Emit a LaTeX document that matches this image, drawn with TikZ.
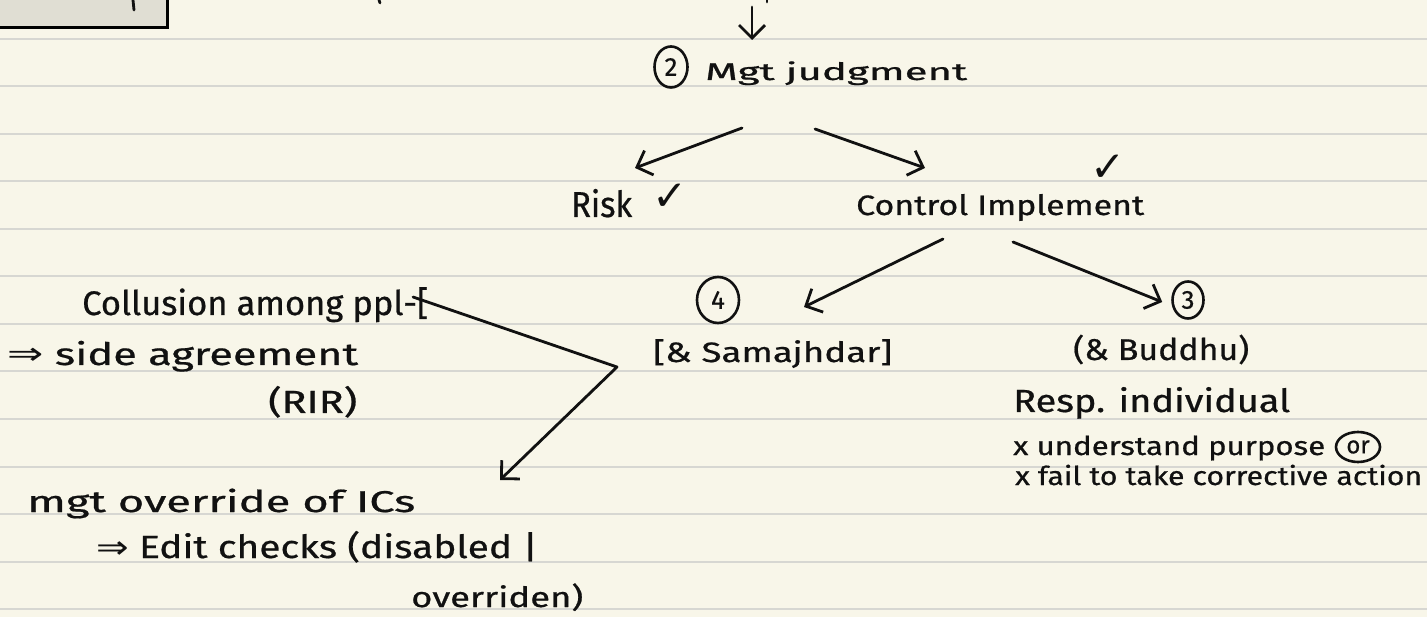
\documentclass[tikz,border=0pt]{standalone}
\usepackage{fontspec}
\setmainfont{Fira Sans}[FakeBold=0.6]
\newfontfamily\symf{DejaVu Sans}
\usetikzlibrary{arrows.meta,calc,shapes.geometric}
\definecolor{paper}{HTML}{F8F6E9}
\definecolor{rulec}{HTML}{D7D7D2}
\definecolor{boxfill}{HTML}{E0DED3}
\definecolor{ink}{HTML}{111111}
\newcommand{\hw}[3]{\resizebox{#1}{\height}{\fontsize{#2}{#2}\selectfont #3}}
\begin{document}
\begin{tikzpicture}[x=1pt,y=-1pt,
  txt/.style={anchor=base west, inner sep=0pt, text=ink},
  circnum/.style={draw=ink, ellipse, line width=2.6pt, inner sep=0pt, text=ink, font=\fontsize{26}{26}\selectfont},
  arr/.style={draw=ink, line width=2.8pt, line cap=round, line join=round, -{Straight Barb[length=13pt,width=26pt,line width=2.8pt]}},
  pen/.style={draw=ink, line width=2.8pt, line cap=round, line join=round},
  ruleline/.style={draw=rulec, line width=2pt},
  chk/.style={inner sep=0pt, text=ink, font=\symf\fontsize{42}{42}\selectfont}
]
\useasboundingbox (0,0) rectangle (1427,617);
\fill[paper] (0,0) rectangle (1427,617);
\foreach \i in {0,...,12} \draw[ruleline] (0,{39+47.5*\i}) -- (1427,{39+47.5*\i});

% top-left box and cut-off marks
\draw[fill=boxfill, line width=3pt] (-5,-5) rectangle (167,28);
\draw[pen] (133,0) -- (134,10);
\draw[pen] (379,0) -- (380,3);
\draw[pen] (767,0) -- (767,2);

% nodes
\node[circnum, minimum width=33pt, minimum height=41pt] (c2) at (671,67) {2};
\node[txt] (mgt) at (705,80) {\hw{262pt}{24}{Mgt judgment}};
\node[txt] (risk) at (571,217) {\hw{61pt}{36}{Risk}};
\node[chk] (chk1) at (670,197) {✓};
\node[txt] (ctrl) at (856,215) {\hw{288pt}{28}{Control Implement}};
\node[chk] (chk2) at (1108,168) {✓};
\node[circnum, minimum width=42pt, minimum height=46pt] (c4) at (718,300) {4};
\node[txt] (sam) at (653,362) {\hw{239pt}{28}{[\& Samajhdar]}};
\node[circnum, minimum width=31pt, minimum height=37pt] (c3) at (1188,300) {3};
\node[txt] (bud) at (1073,360) {\hw{176pt}{30}{(\& Buddhu)}};
\node[txt] (resp) at (1013,412) {\hw{277pt}{32}{Resp. individual}};
\node[txt] (und) at (1013,455) {\hw{312pt}{26}{x understand purpose}};
\node[circnum, minimum width=44pt, minimum height=30pt, font=\fontsize{24}{24}\selectfont] (orn) at (1358,447) {or};
\node[txt] (fail) at (1015,485) {\hw{407pt}{26}{x fail to take corrective action}};
\node[txt] (coll) at (82,315) {\hw{346pt}{34}{Collusion among ppl-[}};
\node[txt] (side) at (7,365) {\hw{351pt}{31}{{\symf ⇒} side agreement}};
\node[txt] (rir) at (268,413) {\hw{89pt}{32}{(RIR)}};
\node[txt] (ovr) at (27,512) {\hw{388pt}{30}{mgt override of ICs}};
\node[txt] (edit) at (96,558) {\hw{442pt}{32}{{\symf ⇒} Edit checks (disabled |}};
\node[txt] (ovn) at (411,607) {\hw{172pt}{28}{overriden)}};

\coordinate (topc) at (752,7);
\coordinate (vtx) at (617,367);

% connectors
\draw[arr] (topc) -- ($(mgt.base west)+(47,-40)$);
\draw[arr] ($(mgt.base west)+(37,48)$) -- ($(risk.base west)+(64,-49)$);
\draw[arr] ($(mgt.base west)+(110,49)$) -- ($(ctrl.base west)+(69,-47)$);
\draw[arr] ($(ctrl.base west)+(87,24)$) -- ($(sam.base west)+(151,-55)$);
\draw[arr] ($(ctrl.base west)+(157,27)$) -- ($(c3.west)+(-9,2)$);
\draw[arr] ($(coll.base west)+(331,-18)$) -- (vtx) -- ($(ovr.base west)+(473,-32)$);
\end{tikzpicture}
\end{document}
